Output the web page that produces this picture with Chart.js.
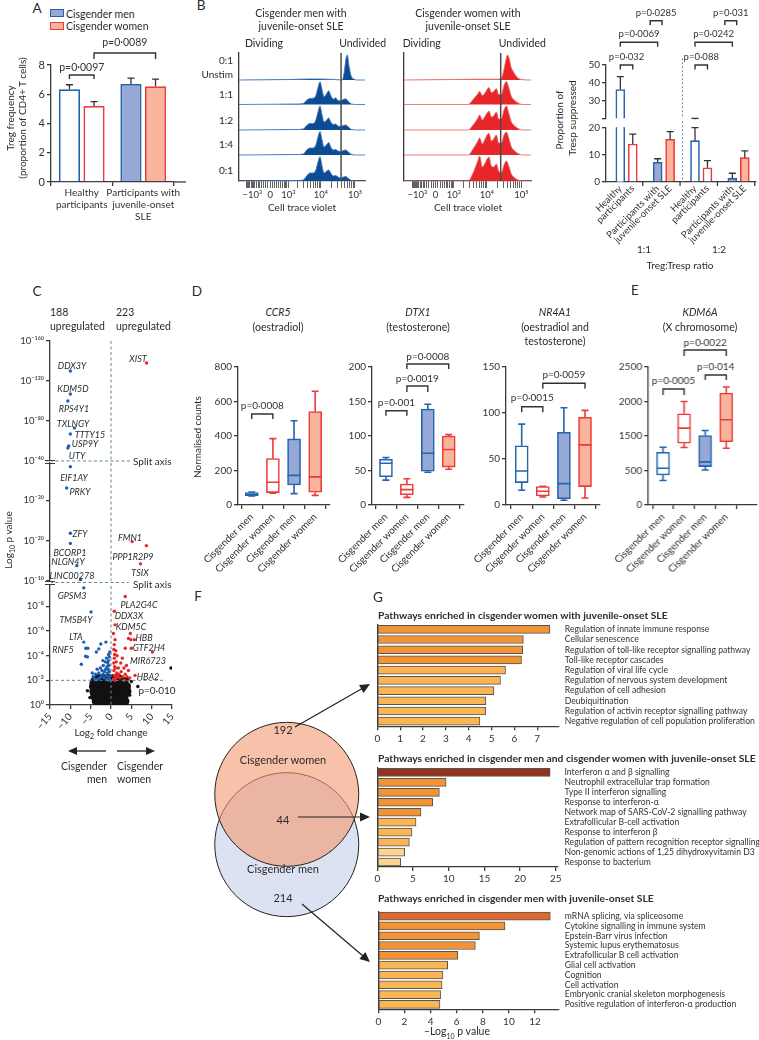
<!DOCTYPE html>
<html><head><meta charset="utf-8">
<script src="https://cdn.jsdelivr.net/npm/chart.js@4.4.1/dist/chart.umd.min.js"></script>
<style>
body{margin:0;background:#fff}
#fig{position:relative;width:759px;height:1040px;overflow:hidden;font-family:Lato,'Noto Sans',sans-serif;color:#2b2b2b}
#fig canvas{position:absolute}
.t{position:absolute;white-space:nowrap;transform:translate(-50%,-50%);font-size:10px;line-height:1}
.l{transform:translate(0,-50%)}
.r{transform:translate(-100%,-50%)}
.v{transform:translate(-50%,-50%) rotate(-90deg)}
.i{font-style:italic}
.b{font-weight:700}
.P{font-size:13.5px}
.sw{position:absolute;width:12px;height:6px;border:1.5px solid}
</style></head><body><div id="fig"></div>
<script>
// ---- A: Treg frequency
const aGroups = [['Healthy', 'participants'], ['Participants with', 'juvenile-onset', 'SLE']];
const aMen = [6.35, 6.7];
const aWomen = [5.2, 6.55];
const aMenErr = [0.3, 0.4];
const aWomenErr = [0.3, 0.48];

// ---- B: cell trace violet histograms (x = % along the biexponential axis, y = height)
const menX = [0, 30, 45, 51, 53.7, 56.3, 59, 61, 62.7, 64.3, 65.9, 67.5, 69.6, 71.2, 72.8, 74.9, 76.5, 78.6, 80.7, 82.8, 84.7, 86.8, 89.4, 93.4, 100];
const men11 = [0, 0.3, 0.5, 1, 4.3, 6, 6.3, 9, 17, 22.7, 15, 7.7, 11, 13.7, 9, 5.3, 6.7, 4, 3.7, 5, 5.7, 3, 0.5, 0, 0];
const men12 = [0, 0.3, 0.5, 1, 4.5, 6.5, 6.5, 10, 18, 24, 15, 8, 10, 12, 8, 5.5, 6, 4, 3.5, 4.5, 5, 3, 0.5, 0, 0];
const men14 = [0, 0.3, 0.5, 1, 5, 7, 7, 10, 18, 23.5, 15, 8, 10.5, 12.5, 8, 5, 5.5, 4, 3.5, 4.5, 5, 3, 0.5, 0, 0];
const men01 = [0, 0.3, 0.5, 1, 5, 8, 8, 11, 19, 24.3, 15, 8, 10, 11, 8, 5, 5.5, 4, 3, 4, 4.5, 2.5, 0.5, 0, 0];
const menUnstimX = [0, 40, 55, 65, 75, 82, 83.5, 85, 86, 87.3, 89, 91, 93.5, 100];
const menUnstim = [0, 0.5, 1, 1, 0.5, 0, 8, 22, 25, 14, 4, 1, 0, 0];
const womenX = [0, 50.3, 54.2, 57.6, 59.4, 61.5, 63.3, 65.2, 66.7, 68.6, 70.4, 72.5, 74.3, 76.4, 78.5, 80.4, 82.2, 84.3, 86.9, 89.5, 93.4, 100];
const women11 = [0, 0, 5, 10, 13, 9, 11, 15, 17, 12, 13, 16, 10, 10, 19, 23, 17, 8, 4, 1.5, 0, 0];
const women12 = [0, 0, 5, 11, 15, 10, 13, 17, 19, 13, 14, 18, 11, 11, 20, 24, 17, 8, 4, 1.5, 0, 0];
const women14 = [0, 0, 6, 13, 17, 11, 15, 20, 21.7, 14, 16, 20, 12, 12, 20, 23, 17, 8, 4, 1.5, 0, 0];
const women01 = [0, 0, 8, 19, 25, 14, 17, 22, 24, 15, 14, 17, 10, 8, 16, 20, 15, 7, 3, 1, 0, 0];
const womenUnstimX = [0, 40, 55, 70, 76, 78, 80, 81.2, 82.5, 84, 86, 88, 90, 93, 100];
const womenUnstim = [0, 0.5, 0.8, 0.8, 1, 8, 20, 25, 22, 13, 8, 4, 1.5, 0.3, 0];
const ctvMajor = { '-1000': '−10³', '0': '0', '1000': '10³', '10000': '10⁴', '100000': '10⁵' };

// ---- B: suppression (1:1 healthy, 1:1 SLE, 1:2 healthy, 1:2 SLE)
const suppLabels = ['Healthy', 'participants', 'Participants with', 'juvenile-onset SLE'];
const suppMen = [36, 7.2, 15.1, 1.4];
const suppMenErr = [7.1, 1.3, 4.8, 1.8];
const suppWomen = [13.9, 15.6, 5.2, 8.9];
const suppWomenErr = [3.6, 2.8, 2.6, 2.5];

// ---- C: volcano (log2 fold change, -log10 p)
const menFC = [-10, -10, -10.6, -9, -10, -10.4, -10.6, -10, -10.9, -10, -10, -8.4, -7.5, -7.3, -6.7, -4.9, -6.7, -5.7, -6.2, -6.25, -5.8, -7.3, -2.5, -1.25, -3, -3.6,
  -0.4, -0.6, -0.8, -0.5, -1.0, -0.7, -1.3, -0.4, -1.6, -0.9, -2.0, -1.2, -0.5, -2.4, -1.7, -2.8, -3.2, -1.0, -3.6, -4.0, -4.4, -2.2, -1.9, -1.4, -0.3, -3.0, -3.8, -2.6, -4.6, -1.1, -0.6, -2.0, -3.4, -0.3, -0.6];
const menP = [130, 107, 100, 73, 67, 55, 53, 38.3, 33, 21.8, 19.3, 13.8, 10.3, 9.9, 9.5, 7.55, 5.1, 4.6, 4.6, 3.95, 3.9, 3.3, 4.95, 5.1, 4.55, 4.3,
  3.9, 3.6, 3.4, 3.2, 3.1, 2.9, 2.9, 2.7, 2.7, 2.6, 2.5, 2.4, 2.3, 2.3, 2.2, 2.2, 2.1, 2.1, 2.05, 2.1, 2.3, 2.8, 3.2, 3.5, 4.3, 2.6, 2.5, 3.0, 2.6, 3.8, 4.1, 3.6, 2.9, 2.05, 2.0];
const womenFC = [8.75, 5.2, 8.7, 7.25, 3.5, 0.8, 1.0, 4.75, 4.3, 4.9, 5.75, 3.5, 5.0, 10.2, 5.9, 3.9, 3.5,
  0.6, 0.8, 0.7, 0.9, 0.7, 0.8, 0.9, 0.7, 0.8, 1.0, 1.2, 1.4, 1.1, 1.6, 1.9, 1.3, 2.2, 2.5, 1.8, 2.9, 3.2, 2.4, 1.5, 3.8, 4.3, 4.6, 2.8, 0.6, 1.2, 3.3, 1.0];
const womenP = [138, 19.75, 18.75, 14.25, 8.8, 7.6, 6.5, 5.8, 5.4, 5.3, 5.3, 4.6, 4.6, 4.3, 2.4, 2.3, 2.5,
  2.1, 2.4, 2.8, 3.1, 3.4, 3.8, 4.1, 4.5, 4.9, 5.3, 2.2, 2.6, 3.0, 2.3, 2.5, 3.5, 2.2, 2.7, 3.0, 2.3, 3.0, 3.4, 4.0, 3.2, 2.8, 2.2, 3.8, 5.8, 4.4, 2.0, 2.0];
const nsFC = [-5.8, 6.6, 14.75, -5.2, 4.6, 5.0, -4.9, 4.2];
const nsP = [1.15, 1.5, 3.0, 0.6, 0.8, 1.9, 1.8, 2.1];
const nsCoreFC = [-3.6, -2.4, -1.2, 0, 1.2, 2.4, 3.4, -4.0, -2.8, -1.6, -0.4, 0.8, 2.0, 3.2, -4.2, -3.0, -1.8, -0.6, 0.6, 1.8, 3.0, 3.9,
  -4.3, -3.2, -2.0, -0.8, 0.4, 1.6, 2.8, 3.8, -4.0, -2.8, -1.6, -0.4, 0.8, 2.0, 3.2, -3.0, -1.8, -0.6, 0.6, 1.8];
const nsCoreP = [0.3, 0.3, 0.3, 0.3, 0.3, 0.3, 0.3, 0.7, 0.7, 0.7, 0.7, 0.7, 0.7, 0.7, 1.1, 1.1, 1.1, 1.1, 1.1, 1.1, 1.1, 1.1,
  1.5, 1.5, 1.5, 1.5, 1.5, 1.5, 1.5, 1.5, 1.9, 1.9, 1.9, 1.9, 1.9, 1.9, 1.9, 2.15, 2.15, 2.15, 2.15, 2.15];

// ---- D/E: box plots, each group = [min, q1, median, q3, max]
const boxCats = ['Cisgender men', 'Cisgender women', 'Cisgender men', 'Cisgender women'];
const ccr5 = [[52, 54, 62, 72, 75], [68, 72, 132, 269, 385], [66, 116, 172, 383, 488], [56, 74, 163, 542, 659]];
const dtx1 = [[36, 41, 60.5, 66.3, 68.8], [11, 15, 22.3, 30.5, 38], [47.5, 49, 75, 139, 146], [51.8, 55, 80.4, 100, 102]];
const nr4a1 = [[16, 24.3, 37, 64.3, 87.9], [8.7, 9.8, 14.9, 20, 20.3], [5.1, 6.9, 23.2, 79, 105.7], [7.6, 20, 65.4, 95.5, 102.8]];
const kdm6a = [[354, 436, 533, 765, 838], [833, 896, 1114, 1322, 1501], [508, 557, 625, 1007, 1080], [823, 915, 1235, 1622, 1710]];
const kdm6aTickLabels = ['0', '500', '1500', '2000', '2500'];

// ---- F/G: overlap and pathway enrichment (-log10 p)
const vennCounts = [192, 44, 214];
const gWomenPaths = ['Regulation of innate immune response', 'Cellular senescence', 'Regulation of toll-like receptor signalling pathway', 'Toll-like receptor cascades',
  'Regulation of viral life cycle', 'Regulation of nervous system development', 'Regulation of cell adhesion', 'Deubiquitination',
  'Regulation of activin receptor signalling pathway', 'Negative regulation of cell population proliferation'];
const gWomenVals = [7.55, 6.39, 6.36, 6.31, 5.61, 5.39, 5.10, 4.75, 4.74, 4.49];
const gSharedPaths = ['Interferon α and β signalling', 'Neutrophil extracellular trap formation', 'Type II interferon signalling', 'Response to interferon-α',
  'Network map of SARS-CoV-2 signalling pathway', 'Extrafollicular B-cell activation', 'Response to interferon β',
  'Regulation of pattern recognition receptor signalling', 'Non-genomic actions of 1,25 dihydroxyvitamin D3', 'Response to bacterium'];
const gSharedVals = [24.2, 9.63, 8.69, 7.76, 6.12, 5.42, 4.86, 4.49, 3.83, 3.27];
const gMenPaths = ['mRNA splicing, via spliceosome', 'Cytokine signalling in immune system', 'Epstein-Barr virus infection', 'Systemic lupus erythematosus',
  'Extrafollicular B cell activation', 'Glial cell activation', 'Cognition', 'Cell activation', 'Embryonic cranial skeleton morphogenesis',
  'Positive regulation of interferon-α production'];
const gMenVals = [13.17, 9.70, 7.74, 7.43, 6.08, 5.31, 4.95, 4.88, 4.77, 4.72];

// ---------------------------------------------------------------
const FILL_M = '#95a8d6', LINE_M = '#2463ad', FILL_W = '#f8b59b', LINE_W = '#ec3b3a';
const AX = '#3a3a3a', DASH = '#5f8797';
const fig = document.getElementById('fig');

Chart.defaults.font.family = 'Lato, "Noto Sans", sans-serif';
Chart.defaults.font.size = 9.5;
Chart.defaults.color = '#333';
Chart.defaults.animation = false;
Chart.defaults.events = [];
Chart.defaults.plugins.legend.display = false;
Chart.defaults.plugins.tooltip.enabled = false;

function mk(L, T, W, H) {
  const c = document.createElement('canvas');
  c.width = W; c.height = H;
  c.style.left = L + 'px'; c.style.top = T + 'px';
  c.style.width = W + 'px'; c.style.height = H + 'px';
  fig.appendChild(c);
  return c;
}
function txt(x, y, s, cls, size) {
  const d = document.createElement('div');
  d.className = 't ' + (cls || '');
  d.style.left = x + 'px'; d.style.top = y + 'px';
  if (size) d.style.fontSize = size + 'px';
  d.innerHTML = s;
  fig.appendChild(d);
}
// fixed axis size so the plot area lands where the figure has it
const fit = n => s => {
  if (s.isHorizontal()) s.height = n; else s.width = n;
  s.paddingLeft = s.paddingRight = s.paddingTop = s.paddingBottom = 0;
};
function ax(o) {
  const base = {
    border: { color: AX, width: 1.3 },
    grid: { drawOnChartArea: false, tickLength: 4, color: AX, lineWidth: 1.3 },
    ticks: { color: '#333', padding: 2 }
  };
  for (const k in o) {
    base[k] = (base[k] && typeof o[k] === 'object' && !Array.isArray(o[k])) ? Object.assign({}, base[k], o[k]) : o[k];
  }
  return base;
}
const sup = n => String(n).replace(/-/g, '⁻').replace(/\d/g, d => '⁰¹²³⁴⁵⁶⁷⁸⁹'[d]);

// ---- plugins
const deco = { id: 'deco', afterDraw(c, a, o) { if (o.draw) { c.ctx.save(); o.draw(c.ctx, c); c.ctx.restore(); } } };
const err = {
  id: 'err',
  afterDatasetsDraw(c, a, o) {
    if (!o.sets) return;
    const ctx = c.ctx, y = c.scales.y, ar = c.chartArea;
    ctx.save();
    ctx.beginPath(); ctx.rect(ar.left - 5, ar.top - 1, ar.right - ar.left + 10, ar.bottom - ar.top + 2); ctx.clip();
    ctx.strokeStyle = '#333'; ctx.lineWidth = 1.3;
    o.sets.forEach((e, di) => {
      c.getDatasetMeta(di).data.forEach((bar, i) => {
        const raw = c.data.datasets[di].data[i];
        const v = typeof raw === 'number' ? raw : raw.y;
        const yt = y.getPixelForValue(v + e[i]);
        ctx.beginPath();
        ctx.moveTo(bar.x, bar.y); ctx.lineTo(bar.x, yt);
        ctx.moveTo(bar.x - o.cap, yt); ctx.lineTo(bar.x + o.cap, yt);
        ctx.stroke();
      });
    });
    ctx.restore();
  }
};
const brk = {
  id: 'brk',
  afterDraw(c, a, o) {
    if (!o.items) return;
    const ctx = c.ctx, xs = c.scales.x;
    const px = r => Array.isArray(r) ? c.getDatasetMeta(r[0]).data[r[1]].x : xs.getPixelForValue(r);
    ctx.save();
    ctx.strokeStyle = '#333'; ctx.fillStyle = '#333'; ctx.lineWidth = 1.4;
    ctx.font = (o.size || 10) + 'px Lato, "Noto Sans", sans-serif';
    ctx.textAlign = 'center'; ctx.textBaseline = 'middle';
    o.items.forEach(b => {
      const x1 = px(b.a), x2 = px(b.b), y = b.y - o.top, d = b.d || 5;
      ctx.beginPath();
      ctx.moveTo(x1, y + d); ctx.lineTo(x1, y); ctx.lineTo(x2, y); ctx.lineTo(x2, y + d);
      ctx.stroke();
      ctx.fillText(b.t, (x1 + x2) / 2, b.ty - o.top);
    });
    ctx.restore();
  }
};
const boxw = {
  id: 'boxw',
  afterDatasetsDraw(c, a, o) {
    if (!o.stats) return;
    const ctx = c.ctx, y = c.scales.y;
    ctx.save(); ctx.lineWidth = 1.6;
    c.getDatasetMeta(0).data.forEach((el, i) => {
      const [mn, q1, md, q3, mx] = o.stats[i], x = el.x, hw = el.width / 2, cw = 3.5;
      const p = v => y.getPixelForValue(v);
      ctx.strokeStyle = o.colors[i];
      ctx.beginPath();
      ctx.moveTo(x, p(q3)); ctx.lineTo(x, p(mx));
      ctx.moveTo(x - cw, p(mx)); ctx.lineTo(x + cw, p(mx));
      ctx.moveTo(x, p(q1)); ctx.lineTo(x, p(mn));
      ctx.moveTo(x - cw, p(mn)); ctx.lineTo(x + cw, p(mn));
      ctx.moveTo(x - hw, p(md)); ctx.lineTo(x + hw, p(md));
      ctx.stroke();
    });
    ctx.restore();
  }
};
Chart.register(deco, err, brk, boxw);

function arrow(ctx, x1, y1, x2, y2, h) {
  const a = Math.atan2(y2 - y1, x2 - x1);
  ctx.beginPath(); ctx.moveTo(x1, y1); ctx.lineTo(x2 - h * 0.8 * Math.cos(a), y2 - h * 0.8 * Math.sin(a)); ctx.stroke();
  ctx.beginPath(); ctx.moveTo(x2, y2);
  ctx.lineTo(x2 - h * Math.cos(a) + h * 0.45 * Math.sin(a), y2 - h * Math.sin(a) - h * 0.45 * Math.cos(a));
  ctx.lineTo(x2 - h * Math.cos(a) - h * 0.45 * Math.sin(a), y2 - h * Math.sin(a) + h * 0.45 * Math.cos(a));
  ctx.closePath(); ctx.fill();
}

// ================= A =================
new Chart(mk(0, 30, 190, 195), {
  type: 'bar',
  data: {
    labels: aGroups,
    datasets: [
      { data: aMen, backgroundColor: ['#fff', FILL_M], borderColor: LINE_M, borderWidth: 1.8 },
      { data: aWomen, backgroundColor: ['#fff', FILL_W], borderColor: LINE_W, borderWidth: 1.8 }
    ]
  },
  options: {
    responsive: false,
    datasets: { bar: { categoryPercentage: 0.8, barPercentage: 0.86 } },
    layout: { padding: { top: 35, right: 16 } },
    scales: {
      x: ax({ afterFit: fit(43), ticks: { font: { size: 10 }, padding: 1, maxRotation: 0, autoSkip: false, color: '#333' } }),
      y: ax({ min: 0, max: 8, afterFit: fit(51), ticks: { stepSize: 2, font: { size: 11 } } })
    },
    plugins: {
      err: { sets: [aMenErr, aWomenErr], cap: 3.5 },
      brk: { top: 30, size: 10.5, items: [
        { a: [0, 0], b: [1, 0], y: 75, d: 4, ty: 68, t: 'p=0·0097' },
        { a: [1, 0], b: [1, 1], y: 53, d: 6, ty: 43, t: 'p=0·0089' }
      ] },
      deco: { draw: (ctx, c) => {
        // the figure's x axis runs on past the last group
        const y = c.chartArea.bottom;
        ctx.strokeStyle = AX; ctx.lineWidth = 1.3;
        ctx.beginPath(); ctx.moveTo(c.chartArea.right, y); ctx.lineTo(c.chartArea.right + 12, y); ctx.stroke();
      } }
    }
  }
});

// ================= B histograms =================
const ctvPos = v => 24.8 + 11.74 * Math.asinh(v / 650);
const ctvTicks = [];
for (let v = -1500; v <= 1000; v += 100) ctvTicks.push(v);
for (let d = 1000; d <= 100000; d *= 10) for (let m = (d === 1000 ? 2 : 1); m <= 9; m++) ctvTicks.push(m * d);
const rowBase = [101, 76.5, 51, 26, 0];

function ctvChart(L, W, padR, rows, col, lineCol, gate) {
  new Chart(mk(L, 50, W, 152), {
    type: 'line',
    data: {
      datasets: rows.map((r, i) => ({
        data: r[0].map((x, j) => ({ x, y: rowBase[i] + r[1][j] })),
        fill: { value: rowBase[i] },
        backgroundColor: col, borderColor: lineCol, borderWidth: 1,
        pointRadius: 0, cubicInterpolationMode: 'monotone'
      }))
    },
    options: {
      responsive: false,
      layout: { padding: { left: 2, right: padR, top: 3 } },
      scales: {
        x: ax({
          type: 'linear', min: 0, max: 100, afterFit: fit(21),
          afterBuildTicks: s => { s.ticks = ctvTicks.map(v => ({ value: ctvPos(v), v })).filter(t => t.value >= 0 && t.value <= 100); },
          grid: { tickLength: 7, lineWidth: 0.8 },
          ticks: { autoSkip: false, maxRotation: 0, padding: 1, font: { size: 9.5 },
            callback: (v, i, ts) => ctvMajor[ts[i].v] || '' }
        }),
        y: ax({ min: 0, max: 128, afterFit: fit(0), ticks: { display: false }, grid: { display: false } })
      },
      plugins: {
        deco: { draw: (ctx, c) => {
          const x = c.scales.x.getPixelForValue(gate);
          ctx.strokeStyle = '#4a4a4a'; ctx.lineWidth = 1.5;
          ctx.beginPath(); ctx.moveTo(x, c.chartArea.top); ctx.lineTo(x, c.chartArea.bottom); ctx.stroke();
        } }
      }
    }
  });
}
ctvChart(237, 132, 4, [[menUnstimX, menUnstim], [menX, men11], [menX, men12], [menX, men14], [menX, men01]], '#0b4c95', 'rgba(70,120,190,0.9)', 81);
ctvChart(402.3, 134, 4.6, [[womenUnstimX, womenUnstim], [womenX, women11], [womenX, women12], [womenX, women14], [womenX, women01]], '#e8262a', 'rgba(240,110,110,0.9)', 75.9);

// ================= B suppression (broken y axis) =================
const slotsM = [0, 3, 6, 9], slotsW = [1, 4, 7, 10];
const suppSets = () => [
  { data: suppMen.map((v, i) => ({ x: slotsM[i], y: v })), backgroundColor: ['#fff', FILL_M, '#fff', FILL_M], borderColor: LINE_M, borderWidth: 1.6, barThickness: 9, grouped: false },
  { data: suppWomen.map((v, i) => ({ x: slotsW[i], y: v })), backgroundColor: ['#fff', FILL_W, '#fff', FILL_W], borderColor: LINE_W, borderWidth: 1.6, barThickness: 9, grouped: false }
];
const ratioLine = (ctx, c) => {
  const x = c.scales.x.getPixelForValue(5);
  ctx.strokeStyle = DASH; ctx.lineWidth = 1; ctx.setLineDash([2, 2]);
  ctx.beginPath(); ctx.moveTo(x, c.chartArea.top - 6); ctx.lineTo(x, c.chartArea.bottom); ctx.stroke();
};
new Chart(mk(580, 0, 180, 122), {
  type: 'bar',
  data: { datasets: suppSets() },
  options: {
    responsive: false,
    layout: { padding: { top: 64.3, right: 4, bottom: 3.7 } },
    scales: {
      x: { type: 'linear', min: -1.15, max: 10.9, offset: false, display: false },
      y: ax({ min: 20, max: 50, afterFit: fit(26), ticks: { stepSize: 10, font: { size: 10 }, callback: v => v === 20 ? '' : v } })
    },
    plugins: {
      err: { sets: [suppMenErr, suppWomenErr], cap: 3.5 },
      deco: { draw: ratioLine },
      brk: { top: 0, size: 9.5, items: [
        { a: 0, b: 1, y: 65, d: 4.5, ty: 56.7, t: 'p=0·032' },
        { a: 0, b: 3, y: 42.3, d: 4.5, ty: 34.3, t: 'p=0·0069' },
        { a: 2.4, b: 3.35, y: 20.7, d: 4.5, ty: 13.3, t: 'p=0·0285' },
        { a: 6, b: 7, y: 65, d: 4.5, ty: 56.7, t: 'p=0·088' },
        { a: 6, b: 9, y: 42.3, d: 4.5, ty: 34.3, t: 'p=0·0242' },
        { a: 8.4, b: 9.35, y: 20.7, d: 4.5, ty: 13.3, t: 'p=0·031' }
      ] }
    }
  }
});
new Chart(mk(580, 120, 180, 150), {
  type: 'bar',
  data: { datasets: suppSets() },
  options: {
    responsive: false,
    layout: { padding: { top: 7.3, right: 4 } },
    scales: {
      x: ax({
        type: 'linear', min: -1.15, max: 10.9, offset: false, afterFit: fit(88),
        afterBuildTicks: s => { s.ticks = slotsM.concat(slotsW).sort((p, q) => p - q).map(v => ({ value: v })); },
        grid: { drawTicks: false },
        ticks: { autoSkip: false, minRotation: 45, maxRotation: 45, padding: 1, font: { size: 9.5 },
          callback: v => suppLabels[{ 0: 0, 1: 1, 3: 2, 4: 3 }[v % 6]] }
      }),
      y: ax({ min: 0, max: 20, afterFit: fit(26), ticks: { stepSize: 5, font: { size: 10 } } })
    },
    plugins: {
      err: { sets: [suppMenErr, suppWomenErr], cap: 3.5 },
      deco: { draw: (ctx, c) => {
        ratioLine(ctx, c);
        // group tick marks between the bar pairs, as in the figure
        ctx.setLineDash([]); ctx.strokeStyle = AX; ctx.lineWidth = 1.3;
        [1.8, 4.8, 7.8, 10.8].forEach(v => {
          const x = c.scales.x.getPixelForValue(v);
          ctx.beginPath(); ctx.moveTo(x, c.chartArea.bottom); ctx.lineTo(x, c.chartArea.bottom + 4); ctx.stroke();
        });
      } }
    }
  }
});

// ================= C volcano (split y axis) =================
const pts = (xs, ys, lo, hi) => xs.map((x, i) => ({ x, y: ys[i] })).filter(p => p.y >= lo && p.y < hi);
function volcano(T, H, lo, hi, min, max, ticks, pad, xh, extra) {
  new Chart(mk(0, T, 180, H), {
    type: 'scatter',
    data: {
      datasets: [
        { data: pts(menFC, menP, lo, hi), backgroundColor: '#1f5fb0', pointRadius: 1.7, borderWidth: 0 },
        { data: pts(womenFC, womenP, lo, hi), backgroundColor: '#e8262a', pointRadius: 1.7, borderWidth: 0 },
        { data: pts(nsFC, nsP, lo, hi), backgroundColor: '#111', pointRadius: 1.7, borderWidth: 0 },
        { data: pts(nsCoreFC, nsCoreP, lo, hi), backgroundColor: '#111', pointRadius: 4.6, borderWidth: 0 }
      ]
    },
    options: {
      responsive: false,
      layout: { padding: Object.assign({ right: 8 }, pad) },
      scales: {
        x: xh ? ax({ min: -15, max: 15, afterFit: fit(xh), ticks: { stepSize: 5, font: { size: 10 }, callback: v => String(v).replace('-', '−') } })
              : { min: -15, max: 15, display: false },
        y: ax({ min, max, afterFit: fit(50),
          afterBuildTicks: s => { s.ticks = ticks.map(v => ({ value: v })); },
          ticks: { font: { size: 9.5 }, callback: v => '10' + sup(-v) } })
      },
      plugins: {
        deco: { draw: (ctx, c) => {
          const xs = c.scales.x, ys = c.scales.y, ar = c.chartArea;
          ctx.strokeStyle = DASH; ctx.lineWidth = 1; ctx.setLineDash([3, 2.5]);
          ctx.beginPath(); ctx.moveTo(xs.getPixelForValue(0), ar.top); ctx.lineTo(xs.getPixelForValue(0), ar.bottom); ctx.stroke();
          extra(ctx, c, xs, ys, ar);
        } }
      }
    }
  });
}
const splitMark = (ctx, y) => {
  ctx.setLineDash([]); ctx.strokeStyle = '#fff'; ctx.lineWidth = 2.5;
  ctx.beginPath(); ctx.moveTo(50, y); ctx.lineTo(50, y + 2); ctx.stroke();
  ctx.strokeStyle = AX; ctx.lineWidth = 1.2;
  ctx.beginPath(); ctx.moveTo(45, y - 0.5); ctx.lineTo(55, y - 0.5); ctx.moveTo(45, y + 2.5); ctx.lineTo(55, y + 2.5); ctx.stroke();
};
volcano(330, 135, 40, 1000, 40, 160, [40, 80, 120, 160], { top: 11, bottom: 4 }, 0, (ctx, c, xs, ys, ar) => {
  ctx.beginPath(); ctx.moveTo(ar.left, ar.bottom); ctx.lineTo(xs.getPixelForValue(4.75), ar.bottom); ctx.stroke();
  splitMark(ctx, ar.bottom);
});
volcano(455, 130, 10, 40, 10, 39.2, [10, 20, 30], { top: 8, bottom: 3 }, 0, (ctx, c, xs, ys, ar) => {
  ctx.beginPath(); ctx.moveTo(ar.left, ar.bottom + 1.5); ctx.lineTo(xs.getPixelForValue(4.3), ar.bottom + 1.5); ctx.stroke();
  splitMark(ctx, ar.bottom + 1);
});
volcano(578, 212, -1, 10, 0, 9.65, [0, 2, 4, 6, 8], { top: 8 }, 85, (ctx, c, xs, ys, ar) => {
  ctx.beginPath(); ctx.moveTo(ar.left, ys.getPixelForValue(2)); ctx.lineTo(xs.getPixelForValue(13.5), ys.getPixelForValue(2)); ctx.stroke();
  ctx.setLineDash([]); ctx.strokeStyle = '#222'; ctx.fillStyle = '#222'; ctx.lineWidth = 1.3;
  arrow(ctx, 106, 751 - 578, 68, 751 - 578, 9);
  arrow(ctx, 117, 751 - 578, 155, 751 - 578, 9);
});

// ================= D / E box plots =================
function boxChart(axisX, right, stats, yMax, step, xmin, xmax, brackets, tickCb) {
  const L = axisX - 40;
  new Chart(mk(L, 330, right - L + 3, 245), {
    type: 'bar',
    data: {
      datasets: [{
        data: stats.map((s, i) => ({ x: i + 1, y: [s[1], s[3]] })),
        backgroundColor: ['#fff', '#fff', FILL_M, FILL_W],
        borderColor: [LINE_M, LINE_W, LINE_M, LINE_W],
        borderWidth: 1.6, borderSkipped: false, barThickness: 13, grouped: false
      }]
    },
    options: {
      responsive: false,
      layout: { padding: { top: 37, right: 3 } },
      scales: {
        x: ax({
          type: 'linear', min: xmin, max: xmax, offset: false, afterFit: fit(70),
          afterBuildTicks: s => { s.ticks = [1, 2, 3, 4].map(v => ({ value: v })); },
          ticks: { autoSkip: false, minRotation: 45, maxRotation: 45, padding: 2, font: { size: 10 }, callback: v => boxCats[v - 1] }
        }),
        y: ax({ min: 0, max: yMax, afterFit: fit(40), ticks: { stepSize: step, font: { size: 10 }, callback: tickCb || (v => v) } })
      },
      plugins: {
        boxw: { stats, colors: [LINE_M, LINE_W, LINE_M, LINE_W] },
        brk: { top: 330, size: 10, items: brackets }
      }
    }
  });
}
boxChart(237.7, 330, ccr5, 800, 200, 0.35, 4.7, [
  { a: [0, 0], b: [0, 1], y: 414, d: 5, ty: 405.7, t: 'p=0·0008' }
]);
boxChart(371.7, 464, dtx1, 200, 50, 0.333, 4.73, [
  { a: [0, 0], b: [0, 1], y: 410.7, d: 5, ty: 402.3, t: 'p=0·001' },
  { a: [0, 1], b: [0, 2], y: 386, d: 6, ty: 378.7, t: 'p=0·0019' },
  { a: [0, 1], b: [0, 3], y: 364, d: 5, ty: 356.5, t: 'p=0·0008' }
]);
boxChart(506, 600, nr4a1, 150, 50, 0.256, 4.71, [
  { a: [0, 0], b: [0, 1], y: 406.7, d: 5.5, ty: 397.3, t: 'p=0·0015' },
  { a: [0, 1], b: [0, 3], y: 383.3, d: 5.5, ty: 375, t: 'p=0·0059' }
]);
boxChart(648.3, 756.7, kdm6a, 2000, 500, 0.3, 5.46, [
  { a: [0, 0], b: [0, 1], y: 389, d: 6, ty: 380.7, t: 'p=0·0005' },
  { a: [0, 2], b: [0, 3], y: 375, d: 5, ty: 366.7, t: 'p=0·014' },
  { a: [0, 1], b: [0, 3], y: 350, d: 6, ty: 342.5, t: 'p=0·0022' }
], (v, i) => kdm6aTickLabels[i]);

// ================= F Venn =================
new Chart(mk(200, 670, 175, 300), {
  type: 'scatter',
  data: {
    datasets: [
      { data: [{ x: 0, y: 1 }], pointRadius: 72, backgroundColor: 'rgba(243,152,112,0.6)', borderColor: '#222', borderWidth: 1, clip: false },
      { data: [{ x: 0, y: -1 }], pointRadius: 72, backgroundColor: '#dce2f1', borderColor: '#222', borderWidth: 1, clip: false }
    ]
  },
  options: {
    responsive: false,
    layout: { padding: 0 },
    scales: { x: { display: false, min: -1.694, max: 1.878 }, y: { display: false, min: -3.081, max: 3.041 } },
    plugins: {
      deco: { draw: ctx => {
        ctx.strokeStyle = '#222'; ctx.fillStyle = '#222'; ctx.lineWidth = 1.2;
        arrow(ctx, 95, 57, 170, 14, 10);
        arrow(ctx, 98, 147, 170, 147, 10);
        arrow(ctx, 102, 234, 170, 292, 10);
      } }
    }
  }
});

// ================= G pathway bars =================
const gColor = v => v > 20 ? '#94331d' : v > 11 ? '#dc6a2c' : v > 6 ? '#f39434' : v > 4 ? '#fbb553' : '#fdd48b';
function pathChart(T, H, names, vals, max, step, padTop, xh, left, right) {
  new Chart(mk(370, T, 389, H), {
    type: 'bar',
    data: {
      labels: names,
      datasets: [{ data: vals, backgroundColor: vals.map(gColor), borderColor: '#555', borderWidth: 1, barThickness: 8, borderSkipped: false }]
    },
    options: {
      responsive: false,
      indexAxis: 'y',
      layout: { padding: { top: padTop } },
      scales: {
        x: ax({ min: 0, max, afterFit: fit(xh),
          afterBuildTicks: s => { s.ticks = []; for (let v = 0; v <= max; v += step) s.ticks.push({ value: v }); },
          ticks: { font: { size: 10 } } }),
        y: { type: 'category', position: 'right', afterFit: fit(759 - right), border: { display: false },
          grid: { display: false, drawTicks: false },
          ticks: { padding: 6.5, autoSkip: false, font: { size: 8.6 }, color: '#333' } },
        yl: ax({ type: 'category', position: 'left', afterFit: fit(left - 370), ticks: { display: false }, grid: { display: false } })
      }
    }
  });
}
pathChart(620, 125, gWomenPaths, gWomenVals, 7.92, 1, 4.2, 18.7, 377.3, 558.3);
pathChart(762, 124, gSharedPaths, gSharedVals, 25.3, 5, 5.4, 19, 377.3, 558);
pathChart(905, 124, gMenPaths, gMenVals, 13.78, 2, 6.2, 19.7, 378.3, 558.3);

// ================= text =================
[['A', 37, 9], ['B', 201, 6], ['C', 37, 292], ['D', 197, 292], ['E', 635, 291], ['F', 198, 597], ['G', 378, 598]]
  .forEach(p => txt(p[1], p[2], p[0], 'P'));
// A
fig.insertAdjacentHTML('beforeend',
  `<div class="sw" style="left:50px;top:9px;background:${FILL_M};border-color:${LINE_M}"></div>` +
  `<div class="sw" style="left:50px;top:21.5px;background:${FILL_W};border-color:${LINE_W}"></div>`);
txt(66, 13.5, 'Cisgender men', 'l', 10.5);
txt(66, 26, 'Cisgender women', 'l', 10.5);
txt(10, 118, 'Treg frequency', 'v', 10);
txt(22, 118, '(proportion of CD4+ T cells)', 'v', 10);
// B
txt(301, 12.7, 'Cisgender men with', '', 10.5);
txt(301, 26, 'juvenile-onset SLE', '', 10.5);
txt(468, 12.7, 'Cisgender women with', '', 10.5);
txt(468, 26, 'juvenile-onset SLE', '', 10.5);
txt(264, 43, 'Dividing', '', 10.5); txt(362.7, 43, 'Undivided', '', 10.5);
txt(421.7, 43, 'Dividing', '', 10.5); txt(522.3, 43, 'Undivided', '', 10.5);
[[60, '0:1'], [74, 'Unstim'], [93.7, '1:1'], [119.7, '1:2'], [144.3, '1:4'], [170.3, '0:1']]
  .forEach(p => txt(233, p[0], p[1], 'r', 10));
txt(302, 207, 'Cell trace violet', '', 10);
txt(468, 207, 'Cell trace violet', '', 10);
txt(559, 120, 'Proportion of', 'v', 10);
txt(572, 118, 'Tresp suppressed', 'v', 10);
txt(644, 249, '1:1', '', 10); txt(719, 249, '1:2', '', 10);
txt(680, 265, 'Treg:Tresp ratio', '', 10);
// C
txt(50, 312, '188', 'l', 10.5); txt(50, 326, 'upregulated', 'l', 10.5);
txt(116, 312, '223', 'l', 10.5); txt(116, 326, 'upregulated', 'l', 10.5);
txt(133, 461, 'Split axis', 'l', 10); txt(133, 584, 'Split axis', 'l', 10);
txt(9, 540, 'Log<sub style="font-size:7px">10</sub> p value', 'v', 10);
txt(111, 733, 'Log<sub style="font-size:7px">2</sub> fold change', '', 10);
txt(157, 690, 'p=0·010', '', 10);
txt(107, 765.7, 'Cisgender', 'r', 10.5); txt(107, 779, 'men', 'r', 10.5);
txt(117, 765.7, 'Cisgender', 'l', 10.5); txt(117, 779, 'women', 'l', 10.5);
[['XIST', 138, 358], ['DDX3Y', 72, 365], ['KDM5D', 73, 388], ['RPS4Y1', 74, 408], ['TXLNGY', 73, 423], ['TTTY15', 90, 434],
 ['USP9Y', 85, 443], ['UTY', 77, 455], ['EIF1AY', 74, 477], ['PRKY', 80, 491], ['ZFY', 80, 533], ['BCORP1', 70, 552],
 ['NLGN4Y', 68, 561], ['LINC00278', 72, 575], ['GPSM3', 72, 595], ['TMSB4Y', 76, 619], ['LTA', 76, 636], ['RNF5', 63, 649],
 ['FMN1', 130, 537], ['PPP1R2P9', 133, 556], ['TSIX', 140, 572], ['PLA2G4C', 139, 604], ['DDX3X', 129, 615], ['KDM5C', 131, 626],
 ['HBB', 144, 637], ['GTF2H4', 149, 647], ['MIR6723', 148, 660], ['HBA2', 148, 676]]
  .forEach(g => txt(g[1], g[2], g[0], 'i', 9));
// D / E
txt(278, 312, 'CCR5', 'i', 10.5); txt(278, 327, '(oestradiol)', '', 10.5);
txt(418, 312, 'DTX1', 'i', 10.5); txt(418, 327, '(testosterone)', '', 10.5);
txt(555, 312, 'NR4A1', 'i', 10.5); txt(555, 327, '(oestradiol and', '', 10.5); txt(555, 341, 'testosterone)', '', 10.5);
txt(700, 312, 'KDM6A', 'i', 10.5); txt(700, 327, '(X chromosome)', '', 10.5);
txt(197, 437, 'Normalised counts', 'v', 10);
// F
txt(283, 729, String(vennCounts[0]), '', 11);
txt(283, 759, 'Cisgender women', '', 11);
txt(283, 819, String(vennCounts[1]), '', 11);
txt(283, 868, 'Cisgender men', '', 11);
txt(283, 897, String(vennCounts[2]), '', 11);
// G
txt(378, 615, 'Pathways enriched in cisgender women with juvenile-onset SLE', 'l b', 10.3);
txt(378, 758, 'Pathways enriched in cisgender men and cisgender women with juvenile-onset SLE', 'l b', 10.3);
txt(378, 898, 'Pathways enriched in cisgender men with juvenile-onset SLE', 'l b', 10.3);
txt(457, 1033, '–Log<sub style="font-size:7px">10</sub> p value', '', 10.5);
</script></body></html>
